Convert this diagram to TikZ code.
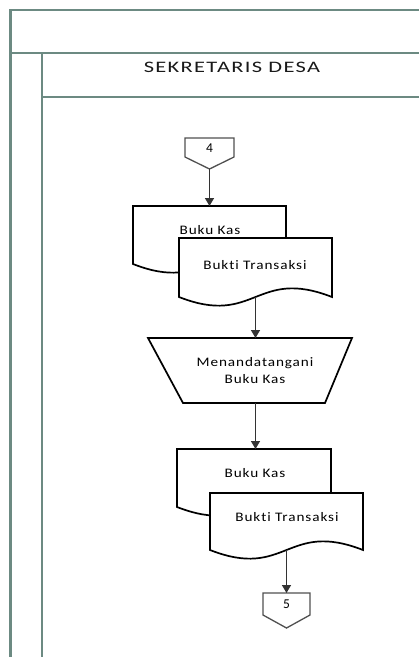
\documentclass[tikz,border=0pt]{standalone}
\usepackage{fontspec}
\usepackage{graphicx}
\usetikzlibrary{arrows.meta}
\newfontfamily\hdrfont[LetterSpace=6,Ligatures=NoCommon]{Carlito}
\newfontfamily\lblfont[LetterSpace=6,Ligatures=NoCommon]{Carlito}
\newfontfamily\numfont{Carlito}
\definecolor{lanecol}{RGB}{108,138,130}
\definecolor{conncol}{RGB}{80,80,80}
\tikzset{
  laneline/.style={draw=lanecol, line width=2.4pt},
  shapeline/.style={draw=black, line width=1.7pt, fill=white},
  connbox/.style={draw=conncol, line width=1.3pt, fill=white},
  flow/.style={draw=black!80, line width=1.4pt, -{Triangle[width=9pt,length=8pt]}},
  lbl/.style={font=\fontsize{13}{17}\lblfont, text=black, align=center, inner sep=0pt},
  numlbl/.style={font=\fontsize{13.5}{15}\numfont, text=black, inner sep=0pt},
  hdr/.style={font=\fontsize{16}{18}\hdrfont, text=black!90, inner sep=0pt},
}
\newcommand{\lbltext}[1]{\scalebox{1.17}[1]{#1}}
% document shape: x1, ytop, x2, ybottom
\newcommand{\mydoc}[4]{%
  \path[shapeline] (#1,#2) -- (#3,#2) -- (#3,#4)
    .. controls ({(#1+#3)/2},#4-30) and ({(#1+#3)/2},#4+30) .. (#1,#4) -- cycle;}
\begin{document}
\begin{tikzpicture}[x=1pt,y=-1pt]
\useasboundingbox[fill=white] (0,0) rectangle (419,657);
% swimlane frame
\draw[laneline] (10.5,657) -- (10.5,10) -- (419,10);
\draw[laneline] (10.5,53) -- (419,53);
\draw[laneline] (42,657) -- (42,53);
\draw[laneline] (42,97) -- (419,97);
\node[hdr] (header) at (232,67) {\scalebox{1.4}[1]{SEKRETARIS DESA}};

% off-page connector 4
\path[connbox] (185,138) -- (234,138) -- (234,157) -- (209.5,169) -- (185,157) -- cycle;
\node[numlbl] (n4) at (209.5,148) {4};
\coordinate (c4tip) at (209.5,169);

% first document pair
\mydoc{133}{206}{286}{264}
\coordinate (d1top) at (209.5,206);
\node[lbl] (bk1) at (210,230) {\lbltext{Buku Kas}};
\mydoc{179}{238}{332}{297}
\node[lbl] (bt1) at (255,265) {\lbltext{Bukti Transaksi}};
\coordinate (d1bot) at (255.5,297);

% manual operation (trapezoid)
\path[shapeline] (148,338) -- (352,338) -- (325,403) -- (183,403) -- cycle;
\coordinate (trtop) at (255.5,338);
\coordinate (trbot) at (255.5,403);
\node[lbl] (tr) at (255,371) {\lbltext{Menandatangani}\\\lbltext{Buku Kas}};

% second document pair
\mydoc{177}{449}{331}{507}
\coordinate (d2top) at (255.5,449);
\node[lbl] (bk2) at (255,473) {\lbltext{Buku Kas}};
\mydoc{210}{493}{363}{550}
\node[lbl] (bt2) at (287,517) {\lbltext{Bukti Transaksi}};
\coordinate (d2bot) at (286.5,550);

% off-page connector 5
\path[connbox] (263,593) -- (310,593) -- (310,615) -- (286.5,628) -- (263,615) -- cycle;
\node[numlbl] (n5) at (286.5,604) {5};
\coordinate (c5top) at (286.5,593);

% flows
\draw[flow] (c4tip) -- (d1top);
\draw[flow] (d1bot) -- (trtop);
\draw[flow] (trbot) -- (d2top);
\draw[flow] (d2bot) -- (c5top);
\end{tikzpicture}
\end{document}
